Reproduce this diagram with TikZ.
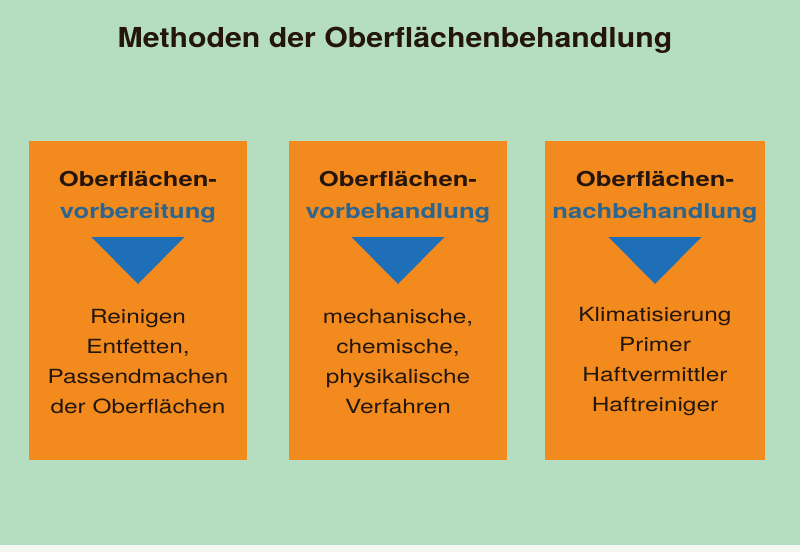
\documentclass[tikz,border=0pt]{standalone}
\usepackage{fontspec}
\setmainfont{TeX Gyre Heros}
\newfontfamily\titlefont[FakeStretch=1.1]{TeX Gyre Heros}
\newfontfamily\widefont[FakeStretch=1.25]{TeX Gyre Heros}
\definecolor{bgmint}{HTML}{B5DEC0}
\definecolor{boxorange}{HTML}{F28A1E}
\definecolor{triblue}{HTML}{1F6FB8}
\definecolor{headblue}{HTML}{2A6690}
\definecolor{textdark}{HTML}{24160C}
\definecolor{stripwhite}{HTML}{F4F8F0}
\tikzset{
  orangebox/.style={fill=boxorange, draw=none},
  headtext/.style={align=center, font=\widefont\fontsize{20.5}{32}\selectfont\bfseries, text=textdark},
  bodytext/.style={align=center, font=\widefont\fontsize{19.5}{30}\selectfont, text=textdark},
  arrowtri/.style={fill=triblue, draw=none},
}
\begin{document}
\begin{tikzpicture}[x=1pt,y=-1pt]
\useasboundingbox (0,0) rectangle (800,552);
\fill[bgmint] (0,0) rectangle (800,545);
\fill[stripwhite] (0,545) rectangle (800,552);
\node[font=\titlefont\fontsize{27.5}{33}\selectfont\bfseries, text=textdark, anchor=base] (title) at (395,47) {Methoden der Oberflächenbehandlung};
% boxes
\path[orangebox] (29,141) rectangle (247,460);
\path[orangebox] (289,141) rectangle (507,460);
\path[orangebox] (545,141) rectangle (765,460);
% headings
\node[headtext] (h1) at (138,197.5) {Oberflächen-\\\textcolor{headblue}{vorbereitung}};
\node[headtext] (h2) at (398,197.5) {Oberflächen-\\\textcolor{headblue}{vorbehandlung}};
\node[headtext] (h3) at (655,197.5) {Oberflächen-\\\textcolor{headblue}{nachbehandlung}};
% triangles
\path[arrowtri] (91.5,237) -- (184.5,237) -- (138,284) -- cycle;
\path[arrowtri] (351.5,237) -- (444.5,237) -- (398,284) -- cycle;
\path[arrowtri] (608.5,237) -- (701.5,237) -- (655,284) -- cycle;
% bodies
\node[bodytext] (t1) at (138,362) {Reinigen\\Entfetten,\\Passendmachen\\der Oberflächen};
\node[bodytext] (t2) at (398,362) {mechanische,\\chemische,\\physikalische\\Verfahren};
\node[bodytext] (t3) at (655,362) {Klimatisierung\\Primer\\Haftvermittler\\Haftreiniger};
\end{tikzpicture}
\end{document}
